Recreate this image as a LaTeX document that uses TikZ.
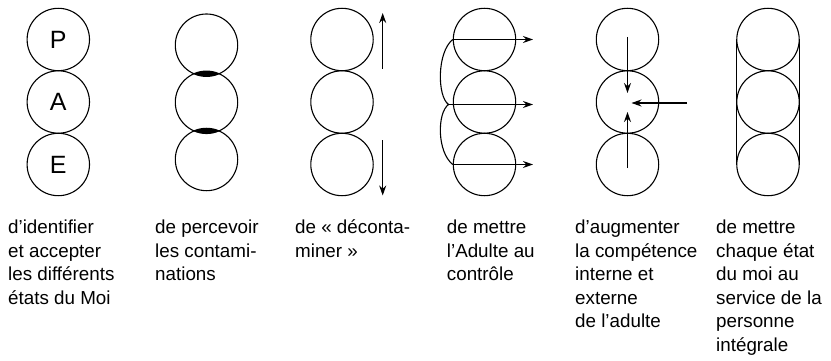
\documentclass[tikz,border=0pt]{standalone}
\usepackage{fontspec}
\setmainfont{Liberation Sans}
\usetikzlibrary{arrows.meta}
\newcommand{\captxt}[1]{\begin{tabular}[t]{@{}l@{}}#1\end{tabular}}
\begin{document}
\begin{tikzpicture}[x=1pt,y=-1pt,
  ring/.style={circle,draw,line width=1.1pt,minimum size=62.4pt,inner sep=0pt,font=\fontsize{25}{30}\selectfont},
  arr/.style={line width=1.1pt,-{Stealth[length=10pt,width=7pt]}},
  ln/.style={line width=1.1pt},
  caption/.style={anchor=base west,inner sep=0pt,font=\fontsize{18.8}{23.6}\selectfont}]
\useasboundingbox (0,0) rectangle (831,361);
% column 1
\node[ring] (a1) at (58.3,39.5) {P};
\node[ring] (a2) at (58.3,102) {A};
\node[ring] (a3) at (58.3,164.5) {E};
% column 2
\node[ring] (b1) at (206.5,45.2) {};
\node[ring] (b2) at (206.5,102.3) {};
\node[ring] (b3) at (206.5,159.5) {};
\begin{scope}
  \clip (b1.center) circle[radius=31.2];
  \fill (b2.center) circle[radius=31.2];
\end{scope}
\begin{scope}
  \clip (b2.center) circle[radius=31.2];
  \fill (b3.center) circle[radius=31.2];
\end{scope}
% column 3
\node[ring] (c1) at (342,39.5) {};
\node[ring] (c2) at (342,102) {};
\node[ring] (c3) at (342,164.5) {};
\coordinate (cu0) at (382.7,69);
\coordinate (cu1) at (382.7,13);
\coordinate (cd0) at (382.7,140);
\coordinate (cd1) at (382.7,195.5);
\draw[arr] (cu0) -- (cu1);
\draw[arr] (cd0) -- (cd1);
% column 4
\node[ring] (d1) at (484.5,39.5) {};
\node[ring] (d2) at (484.5,102) {};
\node[ring] (d3) at (484.5,164.5) {};
\coordinate (dm) at (448.5,104.5);
\coordinate (e1) at (533,39.5);
\coordinate (e2) at (533,104.5);
\coordinate (e3) at (533,164.5);
\draw[arr] (d1.west) -- (e1);
\draw[arr] (dm) -- (e2);
\draw[arr] (d3.west) -- (e3);
\draw[ln] (d1.west) .. controls (437,52) and (437,96) .. (dm)
          .. controls (437,113) and (437,152) .. (d3.west);
% column 5
\node[ring] (f1) at (627.5,39.5) {};
\node[ring] (f2) at (627.5,102) {};
\node[ring] (f3) at (627.5,164.5) {};
\coordinate (g1) at (627.5,37);
\coordinate (g2) at (627.5,93);
\coordinate (g3) at (627.5,168);
\coordinate (g4) at (627.5,112);
\coordinate (g5) at (687,103);
\coordinate (g6) at (631.5,103);
\draw[arr] (g1) -- (g2);
\draw[arr] (g3) -- (g4);
\draw[arr] (g5) -- (g6);
% column 6
\node[ring] (h1) at (768,39.5) {};
\node[ring] (h2) at (768,102) {};
\node[ring] (h3) at (768,164.5) {};
\draw[ln] (h1.west) -- (h3.west);
\draw[ln] (h1.east) -- (h3.east);
% captions
\node[caption] (t1) at (8,233.5) {\captxt{d’identifier\\et accepter\\les différents\\états du Moi}};
\node[caption] (t2) at (155,233.5) {\captxt{de percevoir\\les contami-\\nations}};
\node[caption] (t3) at (295,233.5) {\captxt{de « déconta-\\miner »}};
\node[caption] (t4) at (446.7,233.5) {\captxt{de mettre\\l’Adulte au\\contrôle}};
\node[caption] (t5) at (575,233.5) {\captxt{d’augmenter\\la compétence\\interne et\\externe\\de l’adulte}};
\node[caption] (t6) at (716,233.5) {\captxt{de mettre\\chaque état\\du moi au\\service de la\\personne\\intégrale}};
\end{tikzpicture}
\end{document}
